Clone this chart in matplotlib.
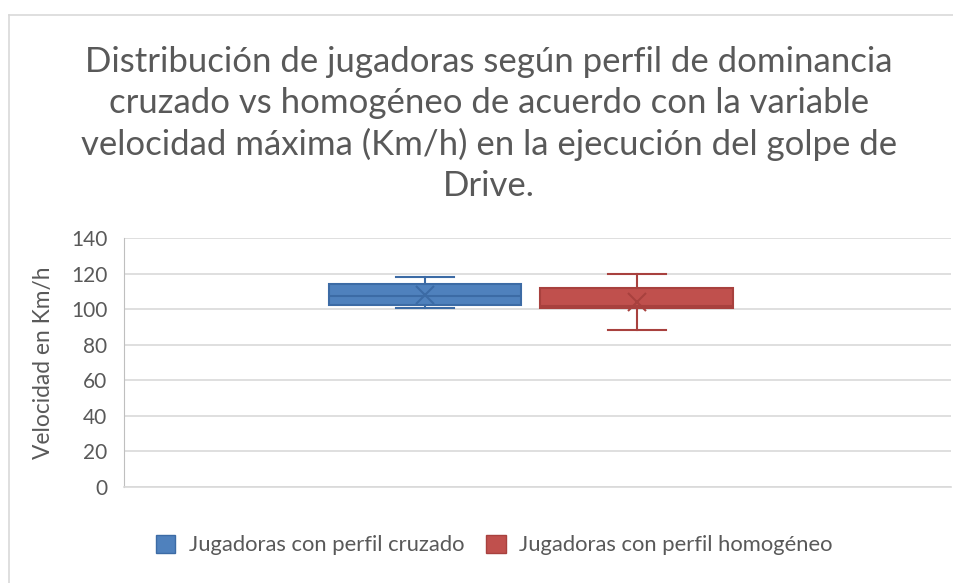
import matplotlib
matplotlib.use("Agg")
import matplotlib.pyplot as plt
from matplotlib.patches import Patch
from matplotlib.lines import Line2D

plt.rcParams['font.family'] = ['Lato', 'DejaVu Sans']

series = ["Jugadoras con perfil cruzado", "Jugadoras con perfil homogéneo"]
whislo = [100.5, 88.3]
q1 = [102.3, 100.8]
med = [107.2, 101.8]
q3 = [114.1, 111.7]
whishi = [118.2, 120.0]
means = [108.0, 104.2]
face_colors = ["#4F81BD", "#C0504D"]
edge_colors = ["#3C6BA5", "#A8413E"]
yticks = [0, 20, 40, 60, 80, 100, 120, 140]

title = ("Distribución de jugadoras según perfil de dominancia\n"
         "cruzado vs homogéneo de acuerdo con la variable\n"
         "velocidad máxima (Km/h) en la ejecución del golpe de\n"
         "Drive.")

W, H = 954, 583
fig = plt.figure(figsize=(W / 100, H / 100), dpi=100)
gray = "#595959"

ax = fig.add_axes([124 / W, 1 - 487 / H, (951 - 124) / W, (487 - 238) / H])
positions = [0.364, 0.620]
for i in range(2):
    st = [dict(whislo=whislo[i], q1=q1[i], med=med[i], q3=q3[i],
               whishi=whishi[i], mean=means[i], label=series[i])]
    ec = edge_colors[i]
    ax.bxp(st, positions=[positions[i]], widths=0.233, patch_artist=True,
           showmeans=True, showfliers=False,
           boxprops=dict(facecolor=face_colors[i], edgecolor=ec, linewidth=1.5),
           medianprops=dict(color=ec, linewidth=1.5),
           whiskerprops=dict(color=ec, linewidth=1.5),
           capprops=dict(color=ec, linewidth=1.5),
           capwidths=0.07,
           meanprops=dict(marker='x', markeredgecolor=ec, markersize=13,
                          markeredgewidth=1.5))

ax.set_xlim(0, 1)
ax.set_ylim(0, 140)
ax.set_yticks(yticks)
ax.set_yticklabels([str(v) for v in yticks])
ax.set_xticks([])
ax.grid(axis='y', color="#D9D9D9", linewidth=1.2)
ax.set_axisbelow(True)
for s in ['top', 'right']:
    ax.spines[s].set_visible(False)
ax.spines['left'].set_color("#BFBFBF")
ax.spines['bottom'].set_color("#D9D9D9")
ax.spines['bottom'].set_linewidth(1.2)
ax.tick_params(axis='y', length=0, labelsize=15, labelcolor=gray, pad=12)
ax.set_ylabel("Velocidad en Km/h", fontsize=16.4, color=gray, labelpad=12)

fig.text(489 / W, 1 - 124 / H, title, ha='center', va='center',
         fontsize=25, color=gray, linespacing=1.34)

handles = [Patch(facecolor=face_colors[i], edgecolor=edge_colors[i], label=series[i])
           for i in range(2)]
fig.legend(handles=handles, loc='center', bbox_to_anchor=(494 / W, 1 - 545 / H),
           ncol=2, frameon=False, fontsize=15.8, labelcolor=gray,
           handlelength=0.9, handleheight=0.9, columnspacing=1.0, handletextpad=0.6)

# chart border (visible left and top edges)
fig.add_artist(Line2D([9.5 / W, 9.5 / W], [0, 1 - 15 / H], transform=fig.transFigure,
                      color="#D9D9D9", linewidth=1.2))
fig.add_artist(Line2D([9.5 / W, 1], [1 - 15 / H, 1 - 15 / H], transform=fig.transFigure,
                      color="#D9D9D9", linewidth=1.2))

fig.savefig("out.png", dpi=100)
